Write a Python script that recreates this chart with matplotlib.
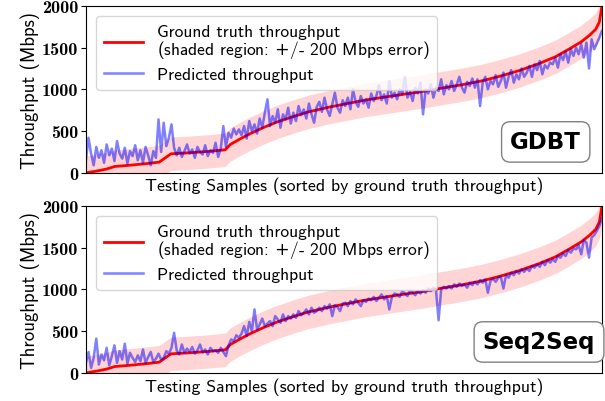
import numpy as np
import matplotlib.pyplot as plt

plt.rcParams['font.family'] = ['cmss10', 'DejaVu Sans']
plt.rcParams['axes.formatter.use_mathtext'] = True

# ground truth throughput (sorted), read at a few sample positions
gt_pos = [0, 0.02, 0.04, 0.056, 0.08, 0.10, 0.12, 0.142, 0.155, 0.165, 0.20, 0.24,
          0.27, 0.28, 0.30, 0.318, 0.345, 0.37, 0.40, 0.43, 0.47, 0.505, 0.54, 0.58,
          0.62, 0.654, 0.69, 0.73, 0.77, 0.804, 0.84, 0.878, 0.91, 0.938, 0.96, 0.976,
          0.988, 0.995, 1.0]
gt_val = [0, 20, 45, 76, 88, 100, 112, 128, 185, 228, 240, 258,
          276, 340, 410, 468, 545, 608, 670, 728, 785, 828, 870, 908,
          945, 976, 1015, 1056, 1105, 1160, 1225, 1308, 1390, 1488, 1570, 1648,
          1720, 1808, 2000]

gdbt_pred = [
    150, 420, 230, 90, 310, 180, 270, 120, 340, 210,
    290, 140, 380, 230, 170, 300, 110, 260, 200, 330,
    150, 270, 120, 310, 210, 90, 260, 180, 640, 250,
    600, 320, 420, 580, 300, 210, 300, 190, 260, 340,
    230, 280, 180, 310, 250, 220, 330, 200, 270, 240,
    360, 190, 290, 560, 310, 480, 420, 530, 460, 520,
    450, 560, 410, 620, 500, 580, 470, 650, 540, 720,
    880, 560, 680, 600, 760, 540, 700, 640, 780, 590,
    720, 620, 800, 690, 760, 650, 830, 700, 600, 790,
    850, 730, 900, 760, 680, 820, 960, 780, 720, 870,
    800, 900, 760, 1000, 850, 790, 920, 830, 880, 780,
    950, 860, 920, 1050, 870, 940, 830, 1100, 900, 960,
    880, 1000, 940, 1150, 900, 970, 860, 1020, 950, 1080,
    700, 1000, 950, 1060, 900, 1020, 980, 1120, 940, 1050,
    1000, 1100, 980, 1060, 1150, 1020, 960, 1090, 1040, 1130,
    1020, 1120, 800, 1080, 1150, 1000, 1100, 1060, 1170, 1030,
    1100, 1200, 1020, 1150, 1230, 1080, 1180, 1120, 1250, 1150,
    1200, 1280, 1150, 1300, 1230, 1340, 1180, 1290, 1250, 1320,
    1300, 1380, 1260, 1420, 1350, 1450, 1320, 1480, 1400, 1500,
    1420, 1540, 1380, 1560, 1250, 1600, 1480, 1550, 1620, 1700,
]

seq_pred = [
    120, 250, 60, 180, 410, 100, 220, 150, 300, 90,
    200, 330, 120, 260, 160, 350, 110, 240, 180, 130,
    210, 140, 280, 120, 190, 250, 130, 170, 230, 160,
    180, 260, 230, 300, 480, 270, 220, 340, 240, 290,
    250, 310, 230, 270, 340, 245, 280, 220, 300, 260,
    270, 240, 300, 250, 200, 330, 400, 380, 450, 420,
    470, 560, 440, 610, 500, 760, 520, 580, 650, 560,
    590, 620, 560, 680, 640, 600, 700, 620, 680, 650,
    700, 660, 740, 690, 720, 760, 700, 780, 720, 740,
    780, 740, 800, 770, 820, 680, 810, 790, 740, 830,
    840, 800, 860, 820, 880, 840, 800, 870, 850, 890,
    870, 910, 860, 900, 940, 880, 920, 760, 910, 950,
    940, 910, 980, 950, 920, 990, 960, 930, 980, 950,
    990, 960, 1010, 980, 1020, 990, 630, 1000, 1030, 1010,
    1040, 1010, 1060, 1030, 1070, 1040, 1060, 1020, 1080, 1050,
    1090, 1060, 1110, 1080, 1120, 960, 1100, 1130, 1090, 1140,
    1150, 1010, 1170, 1140, 1200, 1170, 1220, 1190, 1240, 1210,
    1250, 1220, 1280, 1260, 1300, 1270, 1330, 1290, 1350, 1320,
    1360, 1330, 1400, 1380, 1430, 1400, 1470, 1440, 1490, 1480,
    1530, 1420, 1590, 1560, 1380, 1620, 1650, 1700, 1760, 1850,
]

yticks = [0, 500, 1000, 1500, 2000]
models = ['GDBT', 'Seq2Seq']
preds = [gdbt_pred, seq_pred]
box_x = [0.891, 0.878]
err = 200

gt_x = np.array(gt_pos)
gt_y = np.array(gt_val)

fig, axes = plt.subplots(2, 1, figsize=(6.05, 4.02), dpi=100)
fig.subplots_adjust(left=0.142, right=0.995, top=0.983, bottom=0.07, hspace=0.198)

for ax, name, pred, bx in zip(axes, models, preds, box_x):
    px = np.linspace(0, 1, len(pred))
    ax.fill_between(gt_x, gt_y - err, gt_y + err, color='red', alpha=0.17, lw=0)
    ax.plot(gt_x, gt_y, color='red', lw=2,
            label='Ground truth throughput\n(shaded region: $+$/- 200 Mbps error)')
    ax.plot(px, pred, color='blue', alpha=0.5, lw=1.8, label='Predicted throughput')
    ax.set_xlim(0, 1)
    ax.set_ylim(0, 2000)
    ax.set_xticks([])
    ax.set_yticks(yticks)
    ax.set_yticklabels([str(t) for t in yticks], fontfamily='cmb10', fontsize=13)
    ax.tick_params(axis='y', pad=2)
    ax.set_ylabel('Throughput (Mbps)', fontsize=13.5, labelpad=1)
    ax.set_xlabel('Testing Samples (sorted by ground truth throughput)', fontsize=12.8, labelpad=3)
    leg = ax.legend(loc='upper left', fontsize=12.6, borderaxespad=0.6,
                    labelspacing=0.35, handletextpad=0.8, handlelength=2.2,
                    borderpad=0.45)
    for t in leg.get_texts():
        t.set_linespacing(0.95)
    leg.set_zorder(5)
    ax.text(bx, 0.185, name, transform=ax.transAxes, ha='center', va='center',
            fontsize=16.5, fontweight='bold', family='DejaVu Sans',
            bbox=dict(boxstyle='round,pad=0.38', fc='white', ec='gray'))

plt.savefig('out.png')
